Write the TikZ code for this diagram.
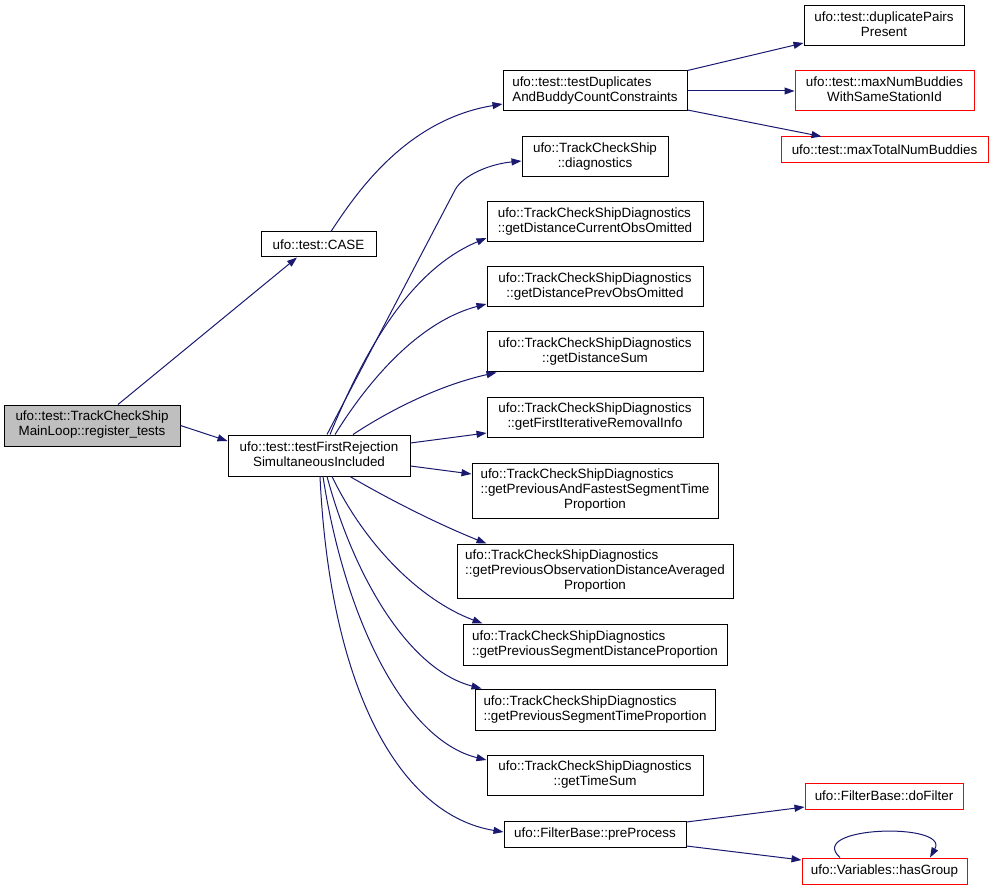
\documentclass[tikz,border=0pt]{standalone}
\usepackage{fontspec}
\setmainfont{Liberation Sans}
\usetikzlibrary{arrows.meta}
\definecolor{edgec}{HTML}{191970}
\definecolor{grayfill}{HTML}{BFBFBF}
\definecolor{redb}{HTML}{FF0000}
\newcommand{\twol}[2]{\begin{tabular}{@{}c@{}}\multicolumn{1}{@{}l@{}}{#1}\\#2\end{tabular}}
\newcommand{\threel}[3]{\begin{tabular}{@{}c@{}}\multicolumn{1}{@{}l@{}}{#1}\\\multicolumn{1}{@{}l@{}}{#2}\\#3\end{tabular}}
\begin{document}
\begin{tikzpicture}[x=1pt,y=-1pt,
  every node/.style={font=\fontsize{13.4}{15}\selectfont},
  fbox/.style 2 args={draw=black, line width=1pt, inner sep=0pt, minimum width=#1, minimum height=#2, fill=white},
  rbox/.style 2 args={fbox={#1}{#2}, draw=redb},
  gbox/.style 2 args={fbox={#1}{#2}, fill=grayfill},
  edge/.style={draw=edgec, line width=1pt, -{Triangle[length=10pt,width=7pt]}}]
\useasboundingbox (0,0) rectangle (993,890);
% nodes
\node[gbox={176pt}{41pt}] (reg) at (92,425.5) {\twol{ufo::test::TrackCheckShip}{MainLoop::register\_tests}};
\node[fbox={115pt}{25pt}] (case) at (318.5,244.5) {ufo::test::CASE};
\node[fbox={182pt}{41pt}] (tfr) at (319,455.5) {\twol{ufo::test::testFirstRejection}{SimultaneousIncluded}};
\node[fbox={184pt}{40pt}] (tdup) at (595,91) {\twol{ufo::test::testDuplicates}{AndBuddyCountConstraints}};
\node[fbox={146pt}{40pt}] (diag) at (595,157) {\twol{ufo::TrackCheckShip}{::diagnostics}};
\node[fbox={216pt}{40pt}] (gdc) at (595,222) {\twol{ufo::TrackCheckShipDiagnostics}{::getDistanceCurrentObsOmitted}};
\node[fbox={216pt}{40pt}] (gdp) at (595,287) {\twol{ufo::TrackCheckShipDiagnostics}{::getDistancePrevObsOmitted}};
\node[fbox={216pt}{40pt}] (gds) at (595,352) {\twol{ufo::TrackCheckShipDiagnostics}{::getDistanceSum}};
\node[fbox={216pt}{40pt}] (gfi) at (595,417) {\twol{ufo::TrackCheckShipDiagnostics}{::getFirstIterativeRemovalInfo}};
\node[fbox={246pt}{55pt}] (gpaf) at (595,490.5) {\threel{ufo::TrackCheckShipDiagnostics}{::getPreviousAndFastestSegmentTime}{Proportion}};
\node[fbox={276pt}{54pt}] (gpo) at (595,571) {\threel{ufo::TrackCheckShipDiagnostics}{::getPreviousObservationDistanceAveraged}{Proportion}};
\node[fbox={264pt}{41pt}] (gpsd) at (595,644.5) {\twol{ufo::TrackCheckShipDiagnostics}{::getPreviousSegmentDistanceProportion}};
\node[fbox={240pt}{41pt}] (gpst) at (595,709.5) {\twol{ufo::TrackCheckShipDiagnostics}{::getPreviousSegmentTimeProportion}};
\node[fbox={216pt}{40pt}] (gts) at (595,775) {\twol{ufo::TrackCheckShipDiagnostics}{::getTimeSum}};
\node[fbox={182pt}{26pt}] (pre) at (595,834) {ufo::FilterBase::preProcess};
\node[fbox={160pt}{40pt}] (dup) at (884,26) {\twol{ufo::test::duplicatePairs}{Present}};
\node[rbox={179pt}{40pt}] (mnb) at (884.5,91) {\twol{ufo::test::maxNumBuddies}{WithSameStationId}};
\node[rbox={207pt}{26pt}] (mtb) at (884.5,150) {ufo::test::maxTotalNumBuddies};
\node[rbox={158pt}{26pt}] (df) at (884,796) {ufo::FilterBase::doFilter};
\node[rbox={165pt}{26pt}] (hg) at (884.5,871) {ufo::Variables::hasGroup};
% edges
\draw[edge] ([xshift=26pt]reg.north) -- ([xshift=-21.5pt]case.south);
\draw[edge] (reg.east) -- ([yshift=14.5pt]tfr.west);
\draw[edge] ([xshift=12.5pt]case.north) .. controls (355,195) and (405,120) .. ([yshift=-13pt]tdup.west);
\draw[edge] (tdup.north east) -- ([yshift=-17pt]dup.west);
\draw[edge] (tdup.east) -- (mnb.west);
\draw[edge] ([yshift=-19pt]tdup.east) -- ([xshift=41pt]mtb.north west);
\draw[edge] ([xshift=8pt]tfr.north) -- (455,190) .. controls (463,175) and (490,164) .. ([yshift=-4pt]diag.west);
\draw[edge] ([xshift=11pt]tfr.north) .. controls (365,350) and (410,270) .. ([yshift=-16pt]gdc.west);
\draw[edge] ([xshift=16pt]tfr.north) .. controls (375,370) and (425,320) .. ([yshift=-17pt]gdp.west);
\draw[edge] ([xshift=34pt]tfr.north) .. controls (390,410) and (440,385) .. ([xshift=10pt]gds.south west);
\draw[edge] ([yshift=12.5pt]tfr.east) -- ([yshift=-16pt]gfi.west);
\draw[edge] ([yshift=-10.5pt]tfr.east) -- ([yshift=16.5pt]gpaf.west);
\draw[edge] ([xshift=31pt]tfr.south) .. controls (390,500) and (440,525) .. ([xshift=30pt]gpo.north west);
\draw[edge] ([xshift=13pt]tfr.south) .. controls (365,545) and (420,600) .. ([xshift=20pt]gpsd.north west);
\draw[edge] ([xshift=8pt]tfr.south) .. controls (355,580) and (410,670) .. ([xshift=7pt]gpst.north west);
\draw[edge] ([xshift=4pt]tfr.south) .. controls (345,620) and (405,740) .. ([yshift=15pt]gts.west);
\draw[edge] ([xshift=1pt]tfr.south) .. controls (330,690) and (400,815) .. ([yshift=2pt]pre.west);
\draw[edge] ([yshift=12pt]pre.east) -- ([yshift=-11pt]df.west);
\draw[edge] ([yshift=-12pt]pre.east) -- ([yshift=11pt]hg.west);
\draw[edge] ([xshift=-44.5pt]hg.north) .. controls (805,826) and (950,822) .. ([xshift=45.5pt]hg.north);
\end{tikzpicture}
\end{document}
